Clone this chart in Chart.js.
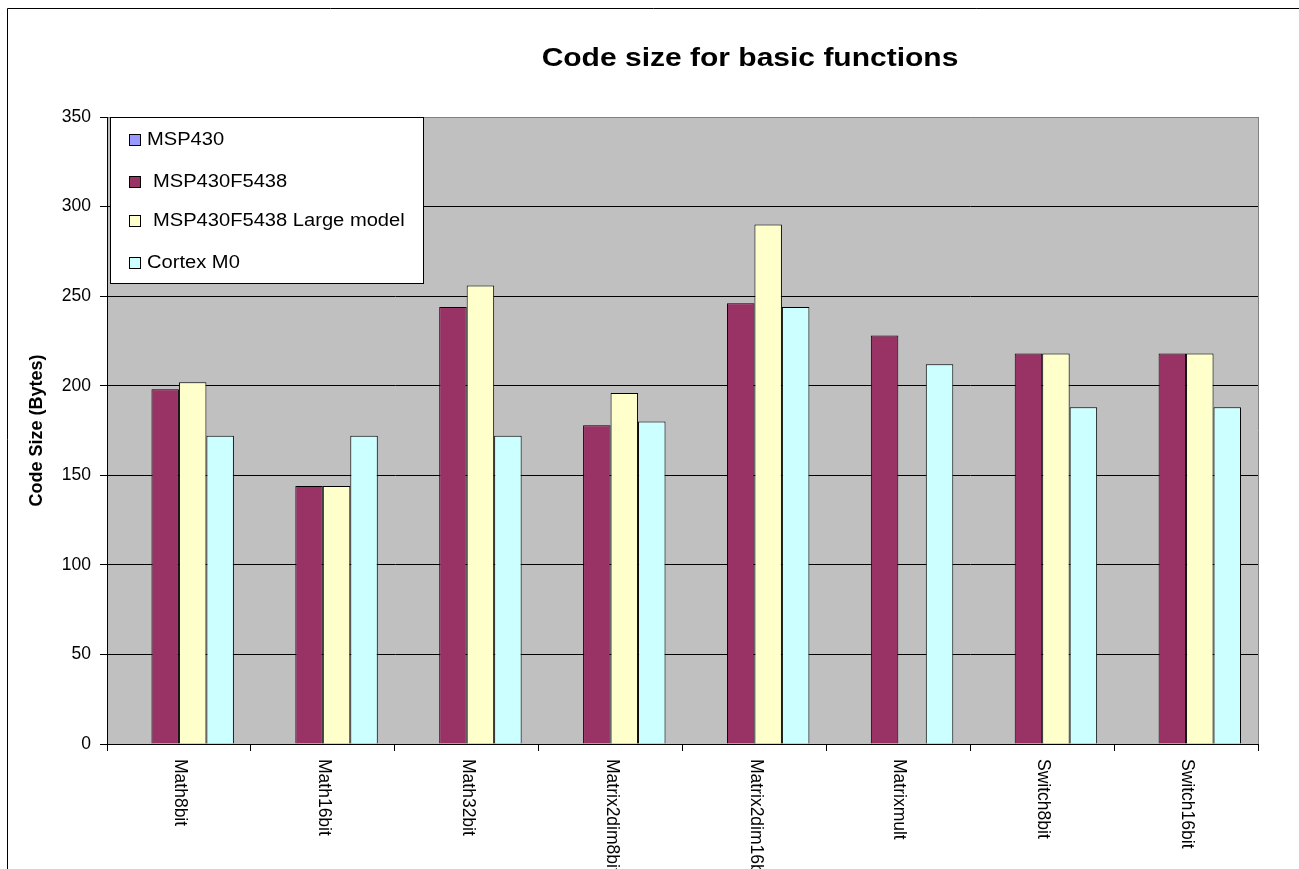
<!DOCTYPE html>
<html>
<head>
<meta charset="utf-8">
<script src="https://cdn.jsdelivr.net/npm/chart.js@4.4.1/dist/chart.umd.min.js"></script>
<style>
  body { margin: 0; background: #fff; }
  #wrap { width: 1299px; height: 869px; }
</style>
</head>
<body>
<div id="wrap"><canvas id="codeSize" width="1299" height="869"></canvas></div>
<script>
const categories = ["Math8bit", "Math16bit", "Math32bit", "Matrix2dim8bit", "Matrix2dim16bit", "Matrixmult", "Switch8bit", "Switch16bit"];
const seriesNames = ["MSP430", "MSP430F5438", "MSP430F5438 Large model", "Cortex M0"];
const msp430 = [null, null, null, null, null, null, null, null];
const msp430f5438 = [198, 144, 244, 178, 246, 228, 218, 218];
const msp430f5438Large = [202, 144, 256, 196, 290, null, 218, 218];
const cortexM0 = [172, 172, 172, 180, 244, 212, 188, 188];
const yMin = 0, yMax = 350, yStep = 50;
const chartTitle = "Code size for basic functions";
const yTitle = "Code Size (Bytes)";

const colors = ["#9999FF", "#993366", "#FFFFCC", "#CCFFFF"];
const FONT = "'Liberation Sans', Arial, sans-serif";

// background, frame, plot area fill
const backdrop = {
    id: 'backdrop',
    beforeDraw(chart) {
        const ctx = chart.ctx, a = chart.chartArea;
        ctx.save();
        ctx.fillStyle = '#fff';
        ctx.fillRect(0, 0, chart.width, chart.height);
        ctx.fillStyle = '#C0C0C0';
        ctx.fillRect(a.left, a.top, a.right - a.left, a.bottom - a.top);
        ctx.strokeStyle = '#000';
        ctx.lineWidth = 1;
        ctx.beginPath();
        ctx.moveTo(7.5, chart.height + 5);
        ctx.lineTo(7.5, 8.5);
        ctx.lineTo(chart.width + 5, 8.5);
        ctx.stroke();
        ctx.restore();
    }
};

// title, legend box, right border, rotated x labels
const extras = {
    id: 'extras',
    afterDraw(chart) {
        const ctx = chart.ctx, a = chart.chartArea;
        ctx.save();

        // right border of plot area
        ctx.strokeStyle = '#808080';
        ctx.lineWidth = 1;
        ctx.beginPath();
        ctx.moveTo(a.right + 0.5, a.top);
        ctx.lineTo(a.right + 0.5, a.bottom);
        ctx.stroke();

        // title
        ctx.fillStyle = '#000';
        ctx.font = 'bold 25px ' + FONT;
        ctx.textAlign = 'center';
        ctx.textBaseline = 'middle';
        ctx.save();
        ctx.translate(750, 59);
        ctx.scale(1.2, 1);
        ctx.fillText(chartTitle, 0, 0);
        ctx.restore();

        // legend
        const lx = a.left + 3, ly = a.top, lw = 313, lh = 166;
        ctx.fillStyle = '#fff';
        ctx.fillRect(lx, ly, lw, lh);
        ctx.strokeStyle = '#000';
        ctx.strokeRect(lx + 0.5, ly + 0.5, lw, lh);
        const rowY = [22, 64, 103, 145];
        const indent = [0, 6, 6, 0];
        ctx.font = '17.5px ' + FONT;
        ctx.textAlign = 'left';
        chart.data.datasets.forEach((ds, i) => {
            const y = ly + rowY[i];
            ctx.fillStyle = ds.backgroundColor;
            ctx.fillRect(lx + 19, y - 5, 11, 11);
            ctx.strokeStyle = '#000';
            ctx.strokeRect(lx + 19.5, y - 4.5, 11, 11);
            ctx.fillStyle = '#000';
            ctx.save();
            ctx.translate(lx + 37 + indent[i], y + 1);
            ctx.scale(1.15, 1);
            ctx.fillText(ds.label, 0, 0);
            ctx.restore();
        });

        // x labels, rotated to read top to bottom
        const xs = chart.scales.x;
        ctx.font = '17.5px ' + FONT;
        ctx.fillStyle = '#000';
        ctx.textAlign = 'left';
        ctx.textBaseline = 'middle';
        categories.forEach((c, i) => {
            ctx.save();
            ctx.translate(xs.getPixelForValue(i) + 1, a.bottom + 15);
            ctx.rotate(Math.PI / 2);
            ctx.fillText(c, 0, 0);
            ctx.restore();
        });
        ctx.restore();
    }
};

const seriesData = [msp430, msp430f5438, msp430f5438Large, cortexM0];

new Chart(document.getElementById('codeSize'), {
    type: 'bar',
    data: {
        labels: categories,
        datasets: seriesData.map((d, i) => ({
            label: seriesNames[i],
            data: d,
            backgroundColor: colors[i],
            borderColor: '#000',
            borderWidth: 1,
            borderSkipped: 'bottom',
            categoryPercentage: 0.764,
            barPercentage: 1
        }))
    },
    options: {
        responsive: false,
        animation: false,
        devicePixelRatio: 1,
        layout: { padding: { left: 0, top: 117, right: 41, bottom: 0 } },
        plugins: {
            legend: { display: false },
            title: { display: false },
            tooltip: { enabled: false }
        },
        scales: {
            x: {
                type: 'category',
                offset: true,
                grid: {
                    offset: true,
                    drawOnChartArea: false,
                    drawTicks: true,
                    tickLength: 7,
                    color: '#000'
                },
                border: { display: true, color: '#000' },
                ticks: { display: false },
                afterFit(scale) { scale.height = 125; }
            },
            y: {
                min: yMin,
                max: yMax,
                ticks: {
                    stepSize: yStep,
                    color: '#000',
                    padding: 9,
                    font: { family: FONT, size: 17.5 }
                },
                grid: {
                    color: ctx => ctx.tick && ctx.tick.value === yMax ? '#808080' : '#000',
                    tickColor: '#000',
                    tickLength: 7
                },
                border: { display: true, color: '#000' },
                title: {
                    display: true,
                    text: yTitle,
                    color: '#000',
                    font: { family: FONT, size: 18, weight: 'bold' },
                    padding: { top: 26, bottom: 0 }
                },
                afterFit(scale) { scale.width = 107; }
            }
        }
    },
    plugins: [backdrop, extras]
});
</script>
</body>
</html>
